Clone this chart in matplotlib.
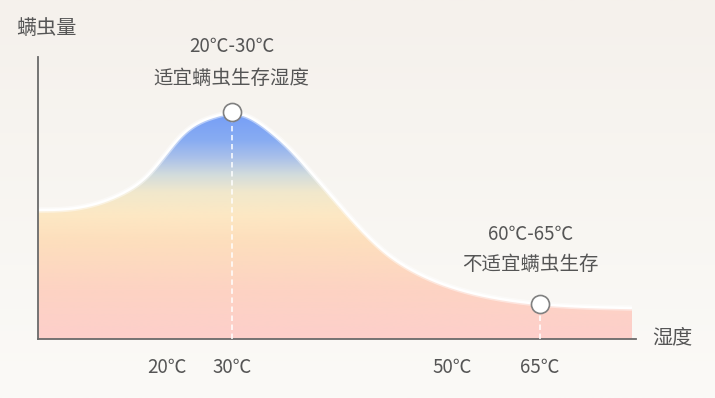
import numpy as np
import matplotlib
matplotlib.use("Agg")
import matplotlib.pyplot as plt
from matplotlib.colors import LinearSegmentedColormap
from matplotlib.path import Path
from matplotlib.patches import PathPatch

plt.rcParams['font.family'] = ['Noto Sans CJK SC', 'DejaVu Sans']

# ---- data (x = position along humidity axis 0-100, y = mite amount 0-100)
curve_x = [0, 5.35, 10.37, 14.55, 17.89, 21.24, 24.08, 27.09, 29.77, 32.44, 35.45, 38.80,
           42.14, 45.48, 49.67, 53.85, 58.03, 62.21, 67.22, 75.59, 83.95, 99.33]
curve_y = [45.74, 46.17, 48.40, 52.13, 57.09, 65.25, 72.34, 76.95, 79.08, 80.14, 78.55, 73.76,
           67.38, 59.57, 49.29, 39.36, 30.85, 24.82, 19.86, 14.89, 12.41, 10.99]
tick_pos = [21.6, 32.4, 69.2, 83.9]
tick_labels = ['20℃', '30℃', '50℃', '65℃']
marker_x = [32.4, 83.9]
marker_y = [80.5, 12.4]
note_top = ['20℃-30℃', '60℃-65℃']
note_bottom = ['适宜螨虫生存湿度', '不适宜螨虫生存']
y_label = '螨虫量'
x_label = '湿度'

W, H = 715, 398
fig = plt.figure(figsize=(W / 100, H / 100), dpi=100)

# background gradient
bg = fig.add_axes([0, 0, 1, 1])
bg.set_axis_off()
bgcmap = LinearSegmentedColormap.from_list('bg', ['#fbfaf7', '#f5f1ec'])
bg.imshow(np.linspace(0, 1, 256)[:, None], cmap=bgcmap, aspect='auto',
          extent=[0, 1, 0, 1], origin='lower')
bg.set_xlim(0, 1); bg.set_ylim(0, 1)

ax = fig.add_axes([38 / W, (H - 339) / H, 598 / W, 282 / H])
ax.set_xlim(0, 100)
ax.set_ylim(0, 100)
ax.patch.set_alpha(0)


def natural_spline(xs, ys, n=800):
    x = np.asarray(xs, float); y = np.asarray(ys, float)
    k = len(x)
    h = np.diff(x)
    A = np.zeros((k, k)); b = np.zeros(k)
    A[0, 0] = A[-1, -1] = 1
    for i in range(1, k - 1):
        A[i, i - 1] = h[i - 1]
        A[i, i] = 2 * (h[i - 1] + h[i])
        A[i, i + 1] = h[i]
        b[i] = 6 * ((y[i + 1] - y[i]) / h[i] - (y[i] - y[i - 1]) / h[i - 1])
    M = np.linalg.solve(A, b)
    xx = np.linspace(x[0], x[-1], n)
    idx = np.clip(np.searchsorted(x, xx) - 1, 0, k - 2)
    x0, x1 = x[idx], x[idx + 1]
    hh = x1 - x0
    yy = (M[idx] * (x1 - xx) ** 3 / (6 * hh) + M[idx + 1] * (xx - x0) ** 3 / (6 * hh)
          + (y[idx] / hh - M[idx] * hh / 6) * (x1 - xx)
          + (y[idx + 1] / hh - M[idx + 1] * hh / 6) * (xx - x0))
    return xx, yy


sx, sy = natural_spline(curve_x, curve_y)

# gradient fill clipped under the curve
cmap = LinearSegmentedColormap.from_list('fill', [
    (0.0, '#fdcfcb'), (0.174, '#fdd3c3'), (0.351, '#fddfbd'), (0.44, '#fde8c4'),
    (0.521, '#f1e8cc'), (0.582, '#d3dcdc'), (0.645, '#a9c0ea'), (0.706, '#88acf2'),
    (0.787, '#78a0f6'), (1.0, '#6e99f6')])
im = ax.imshow(np.linspace(0, 1, 512)[:, None], cmap=cmap, aspect='auto',
               extent=[0, 100, 0, 100], origin='lower', zorder=1)
verts = np.column_stack([np.concatenate([[sx[0]], sx, [sx[-1]]]),
                         np.concatenate([[0], sy, [0]])])
clip = PathPatch(Path(verts), transform=ax.transData, facecolor='none', edgecolor='none')
ax.add_patch(clip)
im.set_clip_path(clip)

# white edge along the curve
ax.plot(sx, sy, color='white', lw=4, alpha=0.45, zorder=2, solid_capstyle='butt')
ax.plot(sx, sy, color='white', lw=1.8, zorder=2.1, solid_capstyle='butt')

# dashed guide lines and markers
for mx, my in zip(marker_x, marker_y):
    ax.plot([mx, mx], [0, my], color='white', lw=1.3, ls=(0, (3, 2)), alpha=0.85, zorder=3)
ax.plot(marker_x, marker_y, 'o', ms=13, mfc='white', mec='#808080', mew=1.2, zorder=5,
        clip_on=False)

# annotations
offsets = [((0, 47), (0, 24)), ((-6.5, 50), (-6.5, 28.5))]
for i in range(len(marker_x)):
    (dx1, dy1), (dx2, dy2) = offsets[i]
    ax.annotate(note_top[i], (marker_x[i], marker_y[i]), xytext=(dx1, dy1),
                textcoords='offset points', ha='center', va='center',
                fontsize=13.5, color='#555555', annotation_clip=False)
    ax.annotate(note_bottom[i], (marker_x[i], marker_y[i]), xytext=(dx2, dy2),
                textcoords='offset points', ha='center', va='center',
                fontsize=14, color='#555555', annotation_clip=False)

# axes styling
for s in ['top', 'right']:
    ax.spines[s].set_visible(False)
for s in ['left', 'bottom']:
    ax.spines[s].set_color('#6a6a6a')
    ax.spines[s].set_linewidth(1.3)
ax.set_yticks([])
ax.set_xticks(tick_pos)
ax.set_xticklabels(tick_labels)
ax.tick_params(axis='x', length=0, pad=13, labelsize=13.5, labelcolor='#555555')

fig.text(46 / W, 1 - 29 / H, y_label, ha='center', va='center', fontsize=14.5, color='#555555')
fig.text(672 / W, 1 - 338 / H, x_label, ha='center', va='center', fontsize=14.5, color='#555555')

fig.savefig('out.png', dpi=100)
